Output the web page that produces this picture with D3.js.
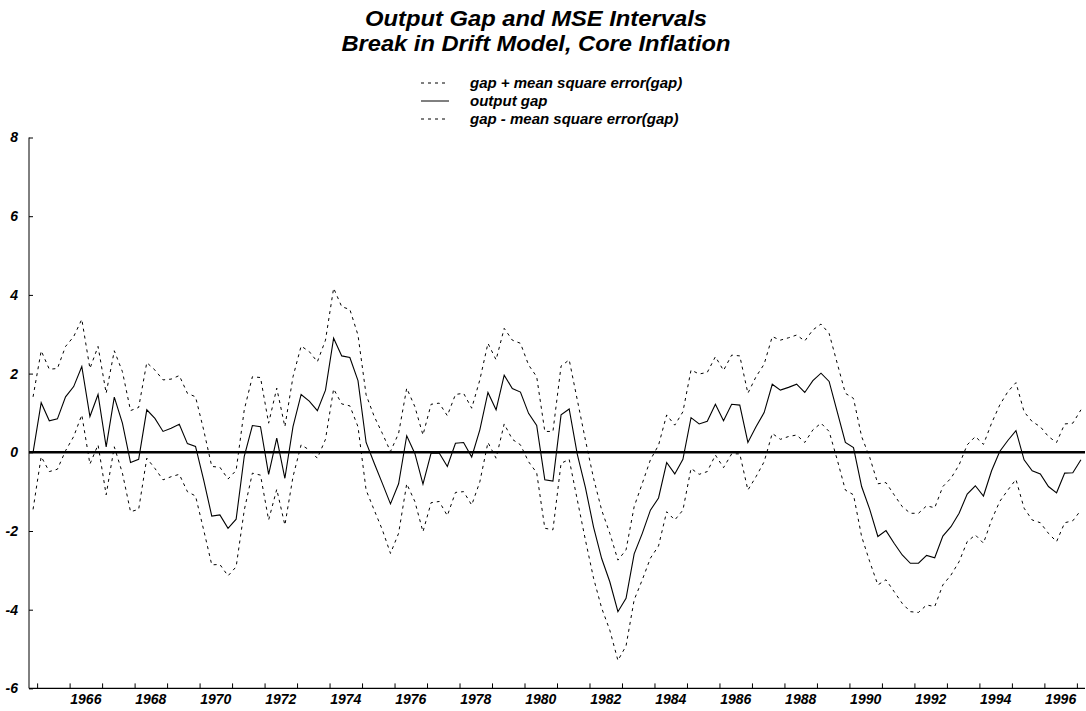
<!DOCTYPE html>
<html>
<head>
<meta charset="utf-8">
<script src="https://cdn.jsdelivr.net/npm/d3@7/dist/d3.min.js"></script>
<style>
  html, body { margin: 0; padding: 0; background: #fff; }
  svg { display: block; }
  text { font-family: "Liberation Sans", Arial, sans-serif; font-weight: bold; font-style: italic; fill: #000; }
</style>
</head>
<body>
<svg id="chart" width="1086" height="711"></svg>
<script>
// quarterly observations, 1964Q4 .. 1997Q1
const startYear = 1964;
const startQuarter = 4;

const gap = [
  0.00, 1.26, 0.80, 0.85, 1.41, 1.67, 2.18, 0.91, 1.47, 0.14,
  1.40, 0.74, -0.26, -0.18, 1.08, 0.86, 0.53, 0.61, 0.71, 0.22,
  0.15, -0.70, -1.62, -1.59, -1.93, -1.70, -0.10, 0.68, 0.65, -0.56,
  0.36, -0.66, 0.65, 1.47, 1.30, 1.06, 1.58, 2.90, 2.45, 2.41,
  1.82, 0.25, -0.28, -0.79, -1.31, -0.80, 0.42, -0.03, -0.81, -0.02,
  -0.02, -0.36, 0.23, 0.25, -0.12, 0.57, 1.52, 1.08, 1.96, 1.62,
  1.53, 0.99, 0.68, -0.70, -0.73, 0.95, 1.10, -0.05, -0.90, -1.90,
  -2.70, -3.29, -4.05, -3.71, -2.58, -2.06, -1.47, -1.16, -0.26, -0.55,
  -0.18, 0.88, 0.72, 0.79, 1.22, 0.80, 1.22, 1.20, 0.25, 0.65,
  1.01, 1.73, 1.58, 1.65, 1.73, 1.52, 1.82, 2.01, 1.80, 1.03,
  0.25, 0.12, -0.87, -1.45, -2.14, -1.99, -2.31, -2.61, -2.82, -2.82,
  -2.62, -2.68, -2.13, -1.89, -1.55, -1.06, -0.85, -1.11, -0.47, 0.02,
  0.30, 0.55, -0.19, -0.47, -0.55, -0.87, -1.03, -0.53, -0.52, -0.19
];

const upper = [
  1.41, 2.58, 2.11, 2.13, 2.69, 2.94, 3.38, 2.13, 2.69, 1.50,
  2.58, 2.05, 1.06, 1.14, 2.28, 2.09, 1.84, 1.86, 1.95, 1.50,
  1.41, 0.57, -0.36, -0.38, -0.68, -0.46, 1.08, 1.92, 1.90, 0.74,
  1.63, 0.65, 1.92, 2.70, 2.56, 2.30, 2.85, 4.17, 3.70, 3.63,
  2.98, 1.46, 0.91, 0.48, 0.02, 0.48, 1.63, 1.16, 0.44, 1.22,
  1.25, 0.93, 1.47, 1.50, 1.12, 1.84, 2.77, 2.35, 3.15, 2.85,
  2.77, 2.22, 1.92, 0.53, 0.53, 2.19, 2.35, 1.33, 0.31, -0.66,
  -1.47, -2.06, -2.74, -2.48, -1.38, -0.79, -0.19, 0.18, 0.95, 0.69,
  1.03, 2.09, 1.99, 2.03, 2.43, 2.08, 2.47, 2.45, 1.50, 1.92,
  2.24, 2.94, 2.85, 2.91, 2.98, 2.83, 3.11, 3.26, 3.02, 2.26,
  1.50, 1.37, 0.40, -0.13, -0.80, -0.77, -1.08, -1.38, -1.55, -1.55,
  -1.36, -1.41, -0.87, -0.66, -0.32, 0.19, 0.40, 0.20, 0.74, 1.20,
  1.54, 1.77, 1.03, 0.78, 0.65, 0.40, 0.25, 0.72, 0.74, 1.08
];

const lower = [
  -1.45, -0.11, -0.49, -0.43, 0.04, 0.40, 0.95, -0.30, 0.19, -1.08,
  0.14, -0.53, -1.51, -1.45, -0.15, -0.41, -0.70, -0.62, -0.56, -1.00,
  -1.11, -1.97, -2.86, -2.85, -3.14, -2.91, -1.47, -0.53, -0.58, -1.72,
  -0.94, -1.85, -0.62, 0.19, 0.06, -0.15, 0.33, 1.61, 1.23, 1.18,
  0.65, -0.96, -1.47, -1.97, -2.57, -2.06, -0.80, -1.25, -2.02, -1.28,
  -1.25, -1.61, -1.02, -1.00, -1.34, -0.75, 0.25, -0.15, 0.72, 0.33,
  0.19, -0.24, -0.52, -1.93, -1.97, -0.28, -0.18, -1.21, -2.23, -3.20,
  -3.96, -4.52, -5.29, -4.92, -3.75, -3.24, -2.69, -2.38, -1.51, -1.72,
  -1.47, -0.41, -0.56, -0.49, -0.07, -0.39, -0.04, -0.04, -0.96, -0.62,
  -0.24, 0.48, 0.33, 0.40, 0.44, 0.25, 0.57, 0.74, 0.53, -0.19,
  -0.96, -1.08, -2.14, -2.78, -3.37, -3.24, -3.54, -3.84, -4.05, -4.07,
  -3.88, -3.92, -3.37, -3.12, -2.78, -2.27, -2.10, -2.31, -1.72, -1.25,
  -0.96, -0.69, -1.42, -1.72, -1.79, -2.06, -2.27, -1.79, -1.74, -1.47
];

const yTicks = [-6, -4, -2, 0, 2, 4, 6, 8];
const yearTicks = d3.range(1965, 1998);
const yearLabels = d3.range(1966, 1997, 2);

const titleLines = ['Output Gap and MSE Intervals', 'Break in Drift Model, Core Inflation'];
const titleWidths = [342, 389];
const legendItems = [
  { label: 'gap + mean square error(gap)', dash: '3,4' },
  { label: 'output gap', dash: null },
  { label: 'gap - mean square error(gap)', dash: '3,4' }
];

// time of observation i, centred in its quarter
const t = i => startYear + (startQuarter - 1) / 4 + i / 4 + 0.125;

const svg = d3.select('#chart');
const x = d3.scaleLinear().domain([1964.75, 1997.25]).range([29, 1085]);
const y = d3.scaleLinear().domain([-6, 8]).range([688.4, 137.5]);

// title
svg.append('g')
  .selectAll('text')
  .data(titleLines)
  .join('text')
  .attr('x', 536)
  .attr('y', (d, i) => 26 + i * 24.7)
  .attr('text-anchor', 'middle')
  .attr('font-size', 22)
  .attr('textLength', (d, i) => titleWidths[i])
  .attr('lengthAdjust', 'spacingAndGlyphs')
  .text(d => d);

// legend
const leg = svg.append('g')
  .selectAll('g')
  .data(legendItems)
  .join('g')
  .attr('transform', (d, i) => `translate(0,${83 + i * 18})`);
leg.append('line')
  .attr('x1', 421).attr('x2', 449)
  .attr('stroke', '#000').attr('stroke-width', 1)
  .attr('stroke-dasharray', d => d.dash);
leg.append('text')
  .attr('x', 470).attr('dy', '0.32em')
  .attr('font-size', 15)
  .text(d => d.label);

// axes
const yAxis = d3.axisRight(y).tickValues(yTicks).tickSize(4).tickFormat('');
svg.append('g').attr('transform', 'translate(29,0)').call(yAxis)
  .call(g => g.select('.domain').remove())
  .call(g => g.selectAll('line').attr('stroke', '#000'));
svg.append('line')
  .attr('x1', 29).attr('x2', 29)
  .attr('y1', y(8)).attr('y2', y(-6))
  .attr('stroke', '#000').attr('stroke-width', 1);
svg.append('g')
  .selectAll('text')
  .data(yTicks)
  .join('text')
  .attr('x', 18)
  .attr('y', d => y(d))
  .attr('dy', '0.35em')
  .attr('text-anchor', 'end')
  .attr('font-size', 14)
  .text(d => d);

const xAxis = d3.axisTop(x).tickValues(yearTicks).tickSize(5).tickFormat('');
svg.append('g').attr('transform', `translate(0,${y(-6)})`).call(xAxis)
  .call(g => g.select('.domain').remove())
  .call(g => g.selectAll('line').attr('stroke', '#000'));
svg.append('line')
  .attr('x1', 29).attr('x2', 1085)
  .attr('y1', y(-6)).attr('y2', y(-6))
  .attr('stroke', '#000').attr('stroke-width', 1.2);
svg.append('g')
  .selectAll('text')
  .data(yearLabels)
  .join('text')
  .attr('x', d => x(d + 0.5))
  .attr('y', 704)
  .attr('text-anchor', 'middle')
  .attr('font-size', 14)
  .text(d => d);

// zero line
svg.append('line')
  .attr('x1', 29).attr('x2', 1085)
  .attr('y1', y(0)).attr('y2', y(0))
  .attr('stroke', '#000').attr('stroke-width', 2.5);

// series
const line = d3.line().x((d, i) => x(t(i))).y(d => y(d));
svg.append('path').datum(upper)
  .attr('fill', 'none').attr('stroke', '#000').attr('stroke-width', 1)
  .attr('stroke-dasharray', '3,4').attr('d', line);
svg.append('path').datum(lower)
  .attr('fill', 'none').attr('stroke', '#000').attr('stroke-width', 1)
  .attr('stroke-dasharray', '3,4').attr('d', line);
svg.append('path').datum(gap)
  .attr('fill', 'none').attr('stroke', '#000').attr('stroke-width', 1.1)
  .attr('d', line);
</script>
</body>
</html>
